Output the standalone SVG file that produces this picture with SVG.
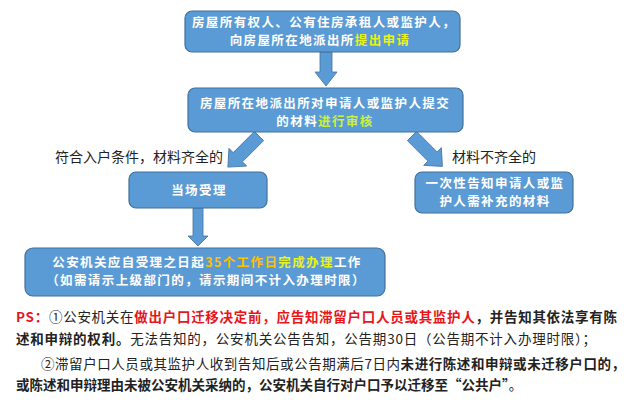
<svg xmlns="http://www.w3.org/2000/svg" width="640" height="402" viewBox="0 0 640 402">
<defs>
<style>
.box{fill:#5b9bd5;stroke:#41719c;stroke-width:1.2}
.arr{fill:#5b9bd5;stroke:#41719c;stroke-width:0.8}
.bt{font-family:"Noto Sans CJK SC","Noto Sans",sans-serif;font-size:12.5px;letter-spacing:1.4px;fill:#ffffff;font-weight:bold;text-anchor:middle}
.lbl{font-family:"Noto Sans CJK SC","Noto Sans",sans-serif;font-size:14px;fill:#222222}
.ps{font-family:"Noto Sans CJK SC","Noto Sans",sans-serif;font-size:13.5px;fill:#222222}
.b{font-weight:bold}
.red{fill:#e8151b;font-weight:bold}
.y1{fill:#e8f21c}
.y2{fill:#ccf03a}
.or{fill:#ffc000}
</style>
</defs>
<rect width="640" height="402" fill="#ffffff"/>
<g id="connectors">
<polygon class="arr" points="320,52 332,52 332,72 337,72 326,86 315,72 320,72"/>
<polygon class="arr" transform="translate(259,136) rotate(45)" points="-6.5,0 6.5,0 6.5,30 12.5,30 0,44 -12.5,30 -6.5,30"/>
<polygon class="arr" transform="translate(412,136) rotate(-45)" points="-6.5,0 6.5,0 6.5,29 12.5,29 0,43 -12.5,29 -6.5,29"/>
<polygon class="arr" points="193,208 203,208 203,236 208,236 198,246 188,236 193,236"/>
</g>
<g id="n1">
<rect class="box" x="185" y="11" width="275" height="41" rx="7"/>
<text class="bt"><tspan x="324" y="27">房屋所有权人、公有住房承租人或监护人，</tspan><tspan x="320" y="45">向房屋所在地派出所<tspan class="y1">提出申请</tspan></tspan></text>
</g>
<g id="n2">
<rect class="box" x="188" y="88" width="275" height="44" rx="7"/>
<text class="bt"><tspan x="325" y="108">房屋所在地派出所对申请人或监护人提交</tspan><tspan x="325" y="126">的材料<tspan class="y2">进行审核</tspan></tspan></text>
</g>
<g id="lbl-left">
<text class="lbl" x="55" y="162">符合入户条件，材料齐全的</text>
</g>
<g id="lbl-right">
<text class="lbl" x="452" y="162">材料不齐全的</text>
</g>
<g id="n3">
<rect class="box" x="129" y="172" width="138" height="36" rx="7"/>
<text class="bt" x="199" y="195">当场受理</text>
</g>
<g id="n4">
<rect class="box" x="415" y="172" width="158" height="41" rx="7"/>
<text class="bt"><tspan x="495" y="188">一次性告知申请人或监</tspan><tspan x="495" y="206">护人需补充的材料</tspan></text>
</g>
<g id="n5">
<rect class="box" x="25" y="248" width="360" height="48" rx="8"/>
<text class="bt"><tspan x="207" y="267">公安机关应自受理之日起<tspan class="or">35个工作日</tspan><tspan class="y1">完成办理</tspan>工作</tspan><tspan x="206" y="285">（如需请示上级部门的，请示期间不计入办理时限）</tspan></text>
</g>
<g id="notes">
<text class="ps" x="16" y="322" textLength="601" lengthAdjust="spacing"><tspan class="red">PS：</tspan>①公安机关在<tspan class="red">做出户口迁移决定前，应告知滞留户口人员或其监护人</tspan><tspan class="b">，并告知其依法享有陈</tspan></text>
<text class="ps" x="16" y="344" textLength="580" lengthAdjust="spacing"><tspan class="b">述和申辩的权利。</tspan>无法告知的，公安机关公告告知，公告期30日（公告期不计入办理时限）；</text>
<text class="ps" x="41" y="369" textLength="584" lengthAdjust="spacing">②滞留户口人员或其监护人收到告知后或公告期满后7日内<tspan class="b">未进行陈述和申辩或未迁移户口的，</tspan></text>
<text class="ps" x="16" y="390"><tspan class="b">或陈述和申辩理由未被公安机关采纳的，公安机关自行对户口予以迁移至“公共户”</tspan>。</text>
</g>
</svg>
